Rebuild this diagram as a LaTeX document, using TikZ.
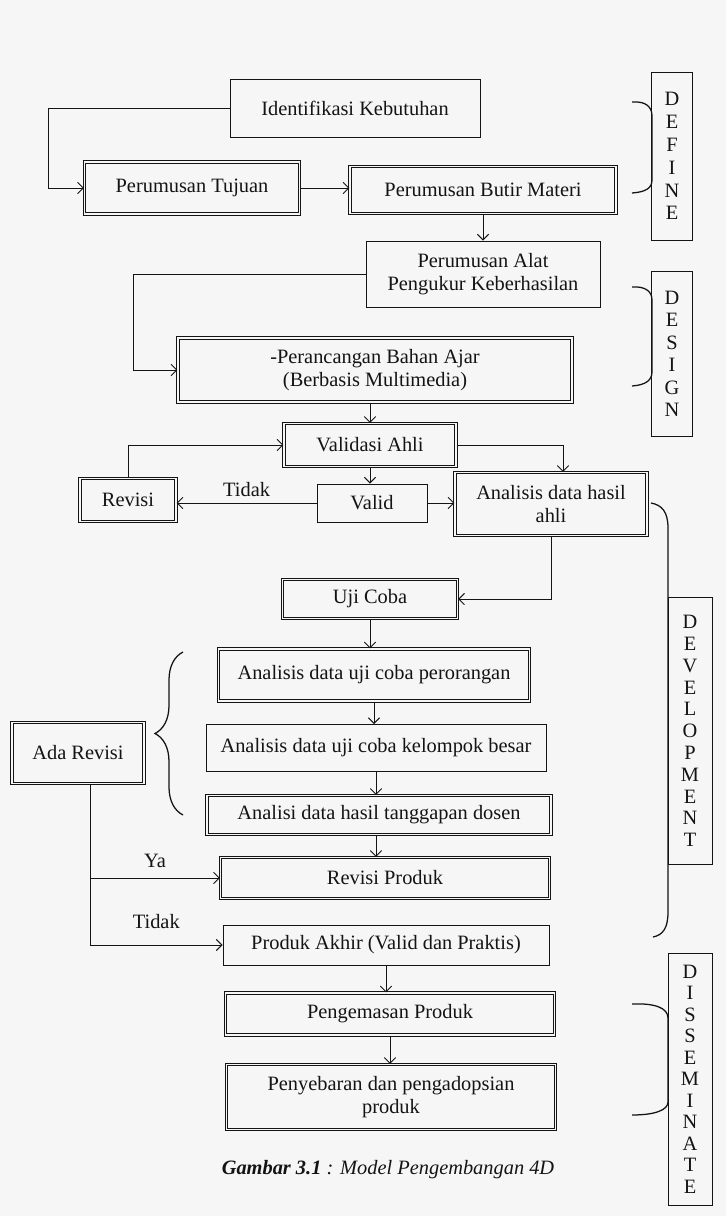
\documentclass[tikz,border=0pt]{standalone}
\usepackage{fontspec}
\setmainfont{Liberation Serif}
\usetikzlibrary{arrows.meta, decorations.pathreplacing}
\definecolor{PP}{RGB}{246,246,246}
\definecolor{DG}{RGB}{20,20,20}

\begin{document}
\begin{tikzpicture}[x=0.025cm, y=-0.025cm,
  wh/.style 2 args={minimum width=#1*0.025cm, minimum height=#2*0.025cm},
  box/.style={draw=DG, line width=0.6pt, align=center, inner sep=1pt,
              font=\fontsize{14.5}{16.5}\selectfont, text=DG},
  dbox/.style={box, double=PP, double distance=1.1pt, line width=0.85pt},
  stage/.style={draw=DG, line width=0.7pt, align=center, inner sep=0pt,
                font=\fontsize{14.5}{#1}\selectfont, text=DG},
  arr/.style={-{Straight Barb[length=4pt,width=8pt]}, line width=0.7pt, draw=DG},
  lbl/.style={font=\fontsize{14.5}{16.5}\selectfont, text=DG},
  curl/.style={draw=DG, line width=0.9pt}
]
% Page
\fill[PP] (0,0) rectangle (726,1216);
\useasboundingbox (0,0) rectangle (726,1216);

% Define
\node[box,  wh={250}{58}] (ident)  at (355,108) {Identifikasi Kebutuhan};
\node[dbox, wh={215}{52}] (tujuan) at (192,188) {Perumusan Tujuan};
\node[dbox, wh={266}{47}] (butir)  at (483,190) {Perumusan Butir Materi};

% Design
\node[box,  wh={234}{66}] (alat)    at (483,274) {Perumusan Alat\\Pengukur Keberhasilan};
\node[dbox, wh={394}{64}] (rancang) at (375,370) {-Perancangan Bahan Ajar\\(Berbasis Multimedia)};

% Develop
\node[dbox, wh={172}{43}] (validasi) at (370,445) {Validasi Ahli};
\node[box,  wh={110}{38}] (valid)    at (372,503) {Valid};
\node[dbox, wh={96}{43}]  (revisi)   at (128,500) {Revisi};
\node[dbox, wh={192}{63}] (anahli)   at (551,504) {Analisis data hasil\\ahli};
\node[dbox, wh={175}{39}] (uji)      at (370,599) {Uji Coba};
\node[dbox, wh={311}{52}] (orang)    at (374,675) {Analisis data uji coba perorangan};
\node[box,  wh={340}{47}] (kelompok) at (376,748) {Analisis data uji coba kelompok besar};
\node[dbox, wh={344}{39}] (dosen)    at (379,815) {Analisi data hasil tanggapan dosen};
\node[dbox, wh={329}{41}] (revprod)  at (385,878) {Revisi Produk};
\node[box,  wh={326}{40}] (akhir)    at (386,945) {Produk Akhir (Valid dan Praktis)};
\node[dbox, wh={132}{61}] (adarev)   at (78,753)  {Ada Revisi};

% Disseminate
\node[dbox, wh={329}{42}] (kemas) at (390,1014) {Pengemasan Produk};
\node[dbox, wh={329}{65}] (sebar) at (391,1097) {Penyebaran dan pengadopsian\\produk};

% Stages
\node[stage=16.3, wh={41}{168}] (define)  at (672,156)  {D\\E\\F\\I\\N\\E};
\node[stage=16,   wh={41}{165}] (design)  at (672,354)  {D\\E\\S\\I\\G\\N};
\node[stage=15.5, wh={44}{267}] (develop) at (690,731)  {D\\E\\V\\E\\L\\O\\P\\M\\E\\N\\T};
\node[stage=15.3, wh={44}{252}] (dissem)  at (690,1079) {D\\I\\S\\S\\E\\M\\I\\N\\A\\T\\E};

\node[lbl] (caption) at (388,1170)
  {\textbf{\textit{Gambar 3.1}} \textit{: Model Pengembangan 4D}};

% Arrows
\draw[arr] (ident.west) -- ++(-181,0) |- (tujuan.west);
\draw[arr] (tujuan.east) -- (tujuan.east -| butir.west);
\draw[arr] (butir.south) -- (butir.south |- alat.north);
\draw[arr] (alat.west) -- ++(-232,0) |- (rancang.west);
\draw[arr] (rancang.south -| validasi) -- (validasi.north);
\draw[arr] (validasi.south) -- (validasi.south |- valid.north);
\draw[arr] (valid.west) -- node[lbl, above=1pt]{Tidak} (valid.west -| revisi.east);
\draw[arr] (revisi.north) |- (validasi.west);
\draw[arr] (valid.east) -- (valid.east -| anahli.west);
\draw[arr] (validasi.east) -| ([xshift=0.3cm]anahli.north);
\draw[arr] (anahli.south) |- (uji.east);
\draw[arr] (uji.south) -- (uji.south |- orang.north);
\draw[arr] (orang.south) -- (orang.south |- kelompok.north);
\draw[arr] (kelompok.south) -- (kelompok.south |- dosen.north);
\draw[arr] (kelompok.south |- dosen.south) -- (kelompok.south |- revprod.north);
\draw[arr] ([xshift=0.3cm]adarev.south) |- node[lbl, pos=0.75, above=4pt]{Ya} (revprod.west);
\draw[arr] ([xshift=0.3cm]adarev.south) |- node[lbl, pos=0.75, above=8pt]{Tidak} (akhir.west);
\draw[arr] (akhir.south) -- (akhir.south |- kemas.north);
\draw[arr] (kemas.south) -- (kemas.south |- sebar.north);

% Braces
\draw[curl, decorate, decoration={brace, amplitude=0.7cm}] (183,815) -- (183,652);
\draw[curl] (632,102) .. controls (646,101) and (652,107) .. (652,116) -- (652,180)
  .. controls (652,188) and (646,192) .. (632,193);
\draw[curl] (632,287) .. controls (646,286) and (652,292) .. (652,300) -- (652,372)
  .. controls (652,380) and (646,385) .. (632,386);
\draw[curl] (651,503) .. controls (662,505) and (668,512) .. (668,528) -- (668,912)
  .. controls (668,928) and (663,935) .. (653,937);
\draw[curl] (632,1004) .. controls (655,1003) and (668,1008) .. (668,1018) -- (668,1102)
  .. controls (668,1110) and (655,1115) .. (632,1115);
\end{tikzpicture}
\end{document}
